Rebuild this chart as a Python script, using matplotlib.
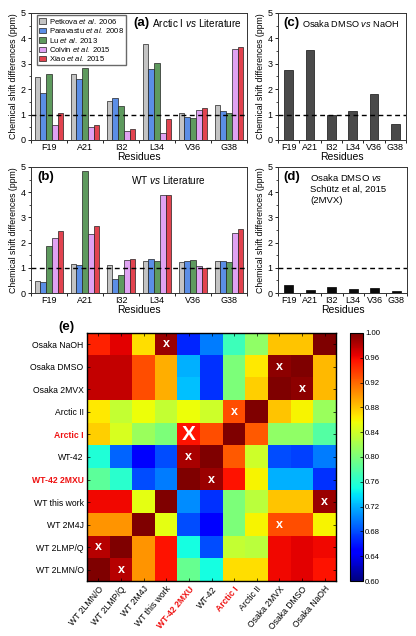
import numpy as np
import matplotlib
matplotlib.use("Agg")
import matplotlib.pyplot as plt
from matplotlib.ticker import FixedLocator, MultipleLocator

plt.rcParams['font.family'] = ['Liberation Sans', 'DejaVu Sans']
plt.rcParams['mathtext.fontset'] = 'custom'
plt.rcParams['mathtext.rm'] = 'Liberation Sans'
plt.rcParams['mathtext.it'] = 'Liberation Sans:italic'
plt.rcParams['mathtext.bf'] = 'Liberation Sans:bold'

# ---------------- data ----------------
residues = ["F19", "A21", "I32", "L34", "V36", "G38"]
series_names = [r"Petkova $et\ al.$ 2006", r"Paravastu $et\ al.$ 2008",
                r"Lu $et\ al.$ 2013", r"Colvin $et\ al.$ 2015", r"Xiao $et\ al.$ 2015"]
series_colors = ["#c4c4c4", "#5b8ee6", "#5e9a5e", "#e0a2f2", "#e2434f"]

arctic_petkova = [2.47, 2.61, 1.53, 3.79, 1.08, 1.38]
arctic_paravastu = [1.87, 2.42, 1.64, 2.79, 0.92, 1.15]
arctic_lu = [2.60, 2.83, 1.32, 3.05, 0.88, 1.08]
arctic_colvin = [0.59, 0.51, 0.37, 0.29, 1.17, 3.58]
arctic_xiao = [1.08, 0.58, 0.42, 0.82, 1.25, 3.67]

wt_petkova = [0.46, 1.14, 1.10, 1.28, 1.22, 1.28]
wt_paravastu = [0.43, 1.10, 0.55, 1.34, 1.26, 1.28]
wt_lu = [1.87, 4.83, 0.72, 1.28, 1.32, 1.22]
wt_colvin = [2.17, 2.33, 1.29, 3.87, 1.08, 2.37]
wt_xiao = [2.46, 2.67, 1.34, 3.89, 0.99, 2.54]

osaka_dmso_vs_naoh = [2.74, 3.53, 0.99, 1.16, 1.81, 0.63]
osaka_dmso_vs_2mvx = [0.33, 0.12, 0.22, 0.14, 0.20, 0.07]

hm_rows = ["Osaka NaOH", "Osaka DMSO", "Osaka 2MVX", "Arctic II", "Arctic I",
           "WT-42", "WT-42 2MXU", "WT this work", "WT 2M4J", "WT 2LMP/Q", "WT 2LMN/O"]
hm_cols = ["WT 2LMN/O", "WT 2LMP/Q", "WT 2M4J", "WT this work", "WT-42 2MXU",
           "WT-42", "Arctic I", "Arctic II", "Osaka 2MVX", "Osaka DMSO", "Osaka NaOH"]
corr = [
    [0.950, 0.965, 0.870, 0.990, 0.665, 0.700, 0.770, 0.810, 0.880, 0.880, 1.000],
    [0.975, 0.975, 0.930, 0.890, 0.720, 0.670, 0.800, 0.865, 0.995, 1.000, 0.885],
    [0.975, 0.975, 0.930, 0.890, 0.725, 0.670, 0.800, 0.875, 1.000, 0.995, 0.885],
    [0.865, 0.835, 0.855, 0.835, 0.855, 0.840, 0.930, 1.000, 0.880, 0.860, 0.815],
    [0.875, 0.845, 0.815, 0.800, 0.955, 0.930, 1.000, 0.925, 0.810, 0.810, 0.780],
    [0.755, 0.690, 0.645, 0.680, 0.985, 1.000, 0.925, 0.840, 0.680, 0.675, 0.700],
    [0.785, 0.760, 0.680, 0.700, 1.000, 0.990, 0.955, 0.860, 0.720, 0.720, 0.670],
    [0.960, 0.960, 0.850, 1.000, 0.705, 0.670, 0.800, 0.830, 0.880, 0.880, 0.990],
    [0.900, 0.900, 1.000, 0.850, 0.680, 0.650, 0.800, 0.860, 0.930, 0.930, 0.860],
    [0.980, 1.000, 0.900, 0.955, 0.750, 0.680, 0.835, 0.830, 0.960, 0.965, 0.960],
    [1.000, 0.980, 0.900, 0.955, 0.790, 0.750, 0.870, 0.870, 0.960, 0.965, 0.955],
]
x_marks = [("Osaka NaOH", "WT this work"), ("Osaka DMSO", "Osaka 2MVX"),
           ("Osaka 2MVX", "Osaka DMSO"), ("Arctic II", "Arctic I"),
           ("WT-42", "WT-42 2MXU"), ("WT-42 2MXU", "WT-42"),
           ("WT this work", "Osaka NaOH"), ("WT 2M4J", "Osaka 2MVX"),
           ("WT 2LMP/Q", "WT 2LMN/O"), ("WT 2LMN/O", "WT 2LMP/Q")]
big_x_mark = ("Arctic I", "WT-42 2MXU")
red_labels = ["Arctic I", "WT-42 2MXU"]

# ---------------- figure ----------------
W, H = 416, 636
fig = plt.figure(figsize=(W / 100, H / 100), dpi=100)


def ax_px(l, t, r, b):
    return fig.add_axes([l / W, 1 - b / H, (r - l) / W, (b - t) / H])


FS = 6.5


def style_bar_axes(ax):
    ax.set_xlim(-0.5, 5.5)
    ax.set_ylim(0, 5)
    ax.set_xticks(range(6))
    ax.set_xticklabels(residues, fontsize=FS)
    ax.tick_params(axis='x', which='major', length=0, pad=2)
    ax.xaxis.set_minor_locator(FixedLocator(np.arange(-0.5, 6, 1.0)))
    ax.tick_params(axis='x', which='minor', length=2.5, width=0.6, direction='out')
    ax.set_yticks(range(6))
    ax.yaxis.set_minor_locator(MultipleLocator(0.5))
    ax.tick_params(axis='y', which='major', labelsize=FS, length=2.5, width=0.6, pad=1.5)
    ax.tick_params(axis='y', which='minor', length=1.5, width=0.5)
    ax.axhline(1.0, color='black', lw=1.0, ls=(0, (3.5, 2.5)), zorder=5)
    ax.set_xlabel("Residues", fontsize=7.5, labelpad=0.5)
    ax.set_ylabel("Chemical shift differences (ppm)", fontsize=6.3, labelpad=1.5)
    for s in ax.spines.values():
        s.set_linewidth(0.7)
        s.set_color('#333333')


def grouped(ax, data):
    x = np.arange(len(residues))
    n = len(data)
    w = 0.16
    for i, (vals, c) in enumerate(zip(data, series_colors)):
        ax.bar(x + (i - (n - 1) / 2) * w, vals, width=w, color=c,
               edgecolor='#222222', linewidth=0.5, label=series_names[i], zorder=3)


# (a)
axa = ax_px(31, 13, 247, 140)
grouped(axa, [arctic_petkova, arctic_paravastu, arctic_lu, arctic_colvin, arctic_xiao])
style_bar_axes(axa)
axa.legend(loc='upper left', fontsize=5.5, frameon=True, fancybox=False,
           edgecolor='#444444', borderpad=0.25, labelspacing=0.05,
           handlelength=1.0, handleheight=0.7, handletextpad=0.4,
           borderaxespad=0.0, bbox_to_anchor=(0.027, 0.985))
axa.text(0.475, 0.92, "(a)", transform=axa.transAxes, fontsize=9.5,
         fontweight='bold', va='center')
axa.text(0.975, 0.92, r"Arctic I $vs$ Literature", transform=axa.transAxes,
         fontsize=7.2, va='center', ha='right')

# (b)
axb = ax_px(31, 167, 247, 293)
grouped(axb, [wt_petkova, wt_paravastu, wt_lu, wt_colvin, wt_xiao])
style_bar_axes(axb)
axb.text(0.03, 0.92, "(b)", transform=axb.transAxes, fontsize=9.5,
         fontweight='bold', va='center')
axb.text(0.81, 0.90, r"WT $vs$ Literature", transform=axb.transAxes,
         fontsize=7.2, ha='right', va='center')

# (c)
axc = ax_px(278, 13, 406, 140)
axc.bar(np.arange(6), osaka_dmso_vs_naoh, width=0.4, color='#4a4a4a',
        edgecolor='#111111', linewidth=0.5, zorder=3)
style_bar_axes(axc)
axc.text(0.04, 0.92, "(c)", transform=axc.transAxes, fontsize=9.5,
         fontweight='bold', va='center')
axc.text(0.19, 0.92, r"Osaka DMSO $vs$ NaOH", transform=axc.transAxes,
         fontsize=6.6, va='center')

# (d)
axd = ax_px(278, 167, 407, 293)
axd.bar(np.arange(6), osaka_dmso_vs_2mvx, width=0.4, color='#0a0a0a',
        edgecolor='#000000', linewidth=0.5, zorder=3)
style_bar_axes(axd)
axd.text(0.04, 0.92, "(d)", transform=axd.transAxes, fontsize=9.5,
         fontweight='bold', va='center')
axd.text(0.25, 0.96, "Osaka DMSO $vs$\nSch\u00fctz et al, 2015\n(2MVX)",
         transform=axd.transAxes, fontsize=6.8, va='top', linespacing=1.3)

# (e) heatmap
axe = ax_px(87, 333, 336, 581)
M = np.array(corr)
im = axe.imshow(M, cmap='jet', vmin=0.6, vmax=1.0, aspect='auto',
                interpolation='nearest', origin='upper')
axe.set_xticks(range(len(hm_cols)))
axe.set_yticks(range(len(hm_rows)))
axe.set_xticklabels(hm_cols, rotation=50, ha='right', rotation_mode='anchor', fontsize=6.2)
axe.set_yticklabels(hm_rows, fontsize=6.2)
axe.tick_params(length=2, width=0.5, direction='in', top=True, right=True, pad=2.5)
for lab in axe.get_xticklabels() + axe.get_yticklabels():
    if lab.get_text() in red_labels:
        lab.set_color('#ee1111')
        lab.set_fontweight('bold')
for s in axe.spines.values():
    s.set_linewidth(1.0)
for r, c in x_marks:
    axe.text(hm_cols.index(c), hm_rows.index(r), "x", color='white',
             fontsize=9, fontweight='bold', ha='center', va='center')
axe.text(hm_cols.index(big_x_mark[1]), hm_rows.index(big_x_mark[0]), "X",
         color='white', fontsize=15, fontweight='bold', ha='center', va='center')
fig.text(66 / W, 1 - 327 / H, "(e)", fontsize=9.5, fontweight='bold',
         ha='center', va='center')

cax = ax_px(350, 333, 363, 581)
cb = fig.colorbar(im, cax=cax, ticks=np.arange(0.60, 1.001, 0.04), format='%.2f')
cb.ax.tick_params(labelsize=5.6, length=2, width=0.5, direction='in', pad=1.5)
cb.outline.set_linewidth(0.8)

fig.savefig("out.png", dpi=100)
